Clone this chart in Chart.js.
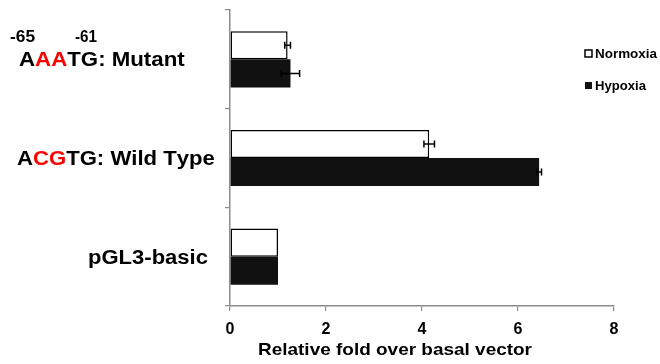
<!DOCTYPE html>
<html>
<head>
<meta charset="utf-8">
<script src="https://cdn.jsdelivr.net/npm/chart.js@4.4.0/dist/chart.umd.min.js"></script>
<style>
  html, body { margin: 0; padding: 0; background: #fff; }
  #wrap { width: 660px; height: 364px; }
</style>
</head>
<body>
<div id="wrap"><canvas id="chart" width="660" height="364"></canvas></div>
<script>
// data
const categories = ['AAATG: Mutant', 'ACGTG: Wild Type', 'pGL3-basic'];
const redLetters = [[1, 2], [1, 2], []];
const seriesNames = ['Normoxia', 'Hypoxia'];
const normoxia = [1.2, 4.15, 1.0];
const normoxiaErr = [0.06, 0.11, 0];
const hypoxia = [1.26, 6.44, 1.0];
const hypoxiaErr = [0.19, 0.05, 0];
const xTicks = [0, 2, 4, 6, 8];
const axisTitle = 'Relative fold over basal vector';
const siteMarks = ['-65', '-61'];

const FONT = '"Liberation Sans", Arial, sans-serif';

// draw text squeezed/stretched to a target width (original figure is stretched a bit)
function drawFit(ctx, parts, x, y, width, size) {
    ctx.save();
    ctx.font = 'bold ' + size + 'px ' + FONT;
    ctx.textAlign = 'left';
    ctx.textBaseline = 'alphabetic';
    const full = parts.map(p => p.t).join('');
    const s = width / ctx.measureText(full).width;
    ctx.translate(x, y);
    ctx.scale(s, 1);
    let cx = 0;
    parts.forEach(p => {
        ctx.fillStyle = p.c || '#000';
        ctx.fillText(p.t, cx, 0);
        cx += ctx.measureText(p.t).width;
    });
    ctx.restore();
}

function splitColored(text, reds) {
    return text.split('').map((ch, i) => ({ t: ch, c: reds.includes(i) ? '#ff0000' : '#000' }));
}

// where each category label sits (left x, width)
const labelBoxes = [
    { x: 19, w: 164 },
    { x: 17, w: 196 },
    { x: 88, w: 120 }
];

const decorPlugin = {
    id: 'decor',
    afterDatasetsDraw(chart) {
        const ctx = chart.ctx;
        const xs = chart.scales.x;
        const errs = [normoxiaErr, hypoxiaErr];
        ctx.save();
        ctx.strokeStyle = '#000';
        ctx.lineWidth = 1.5;
        chart.data.datasets.forEach((ds, di) => {
            const meta = chart.getDatasetMeta(di);
            meta.data.forEach((bar, i) => {
                const e = errs[di][i];
                if (!e) return;
                const x1 = xs.getPixelForValue(ds.data[i] - e);
                const x2 = xs.getPixelForValue(ds.data[i] + e);
                const y = bar.y;
                ctx.beginPath();
                ctx.moveTo(x1, y); ctx.lineTo(x2, y);
                ctx.moveTo(x1, y - 3.5); ctx.lineTo(x1, y + 3.5);
                ctx.moveTo(x2, y - 3.5); ctx.lineTo(x2, y + 3.5);
                ctx.stroke();
            });
        });
        ctx.restore();
    },
    afterDraw(chart) {
        const ctx = chart.ctx;
        const ys = chart.scales.y;
        categories.forEach((c, i) => {
            const cy = ys.getPixelForValue(i);
            const b = labelBoxes[i];
            drawFit(ctx, splitColored(c, redLetters[i]), b.x, cy + 7, b.w, 20);
        });
        // promoter positions above the mutant label
        const my = ys.getPixelForValue(0);
        drawFit(ctx, [{ t: siteMarks[0] }], 10, my - 17, 25, 16);
        drawFit(ctx, [{ t: siteMarks[1] }], 75, my - 17, 22, 16);

        // axis title
        drawFit(ctx, [{ t: axisTitle }], 258, 355, 274, 17);

        // legend
        const legendY = [53.5, 85.5];
        const legendW = [62, 51];
        chart.data.datasets.forEach((ds, di) => {
            const y = legendY[di];
            ctx.save();
            if (di === 0) {
                ctx.fillStyle = '#fff';
                ctx.fillRect(585, y - 3.5, 7, 7);
                ctx.strokeStyle = '#000';
                ctx.lineWidth = 1.5;
                ctx.strokeRect(585, y - 3.5, 7, 7);
            } else {
                ctx.fillStyle = '#111';
                ctx.fillRect(585, y - 3.5, 7, 7);
            }
            ctx.restore();
            drawFit(ctx, [{ t: ds.label }], 595, y + 4.5, legendW[di], 13);
        });
    }
};

new Chart(document.getElementById('chart').getContext('2d'), {
    type: 'bar',
    data: {
        labels: categories,
        datasets: [
            {
                label: seriesNames[0],
                data: normoxia,
                backgroundColor: '#ffffff',
                borderColor: '#000000',
                borderWidth: 1.5,
                borderSkipped: false,
                categoryPercentage: 0.57,
                barPercentage: 1
            },
            {
                label: seriesNames[1],
                data: hypoxia,
                backgroundColor: '#111111',
                borderWidth: 0,
                categoryPercentage: 0.57,
                barPercentage: 1
            }
        ]
    },
    options: {
        indexAxis: 'y',
        responsive: false,
        animation: false,
        layout: { padding: { left: 0, right: 46, top: 10, bottom: 0 } },
        plugins: {
            legend: { display: false },
            tooltip: { enabled: false }
        },
        scales: {
            x: {
                min: xTicks[0],
                max: xTicks[xTicks.length - 1],
                afterBuildTicks: (s) => { s.ticks = xTicks.map(v => ({ value: v })); },
                afterFit: (s) => { s.height = 58; },
                grid: { drawOnChartArea: false, drawTicks: true, tickLength: 5, color: '#8c8c8c', lineWidth: 1.2 },
                border: { display: true, color: '#8c8c8c', width: 1.5 },
                ticks: {
                    color: '#000',
                    padding: 9,
                    font: { family: FONT, size: 16, weight: 'bold' }
                }
            },
            y: {
                offset: true,
                afterFit: (s) => { s.width = 230; },
                grid: { offset: true, drawOnChartArea: false, drawTicks: true, tickLength: 5, color: '#8c8c8c', lineWidth: 1.2 },
                border: { display: true, color: '#8c8c8c', width: 1.5 },
                ticks: { display: false }
            }
        }
    },
    plugins: [decorPlugin]
});
</script>
</body>
</html>
